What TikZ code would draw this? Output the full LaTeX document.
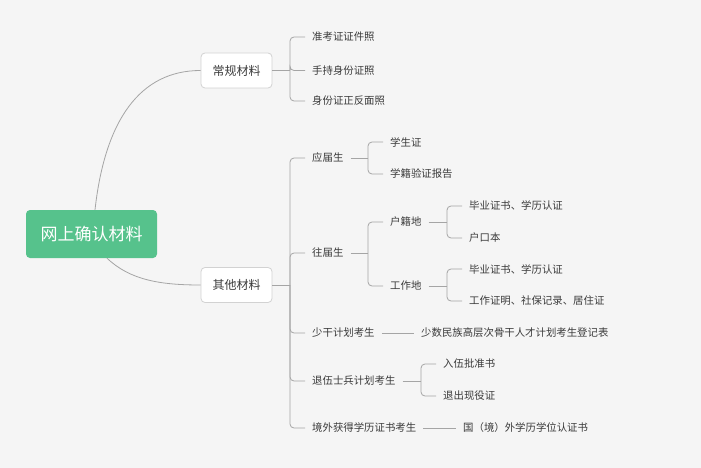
\documentclass[tikz,border=0pt]{standalone}
\usepackage{fontspec}
\setmainfont{Noto Sans CJK SC}
\usetikzlibrary{calc}
\definecolor{bg}{HTML}{F5F5F5}
\definecolor{rootg}{HTML}{56C28C}
\definecolor{linec}{HTML}{A5A5A5}
\definecolor{txt}{HTML}{3A3A3A}
\definecolor{boxb}{HTML}{D2D2D2}
\begin{document}
\begin{tikzpicture}[x=1pt,y=-1pt,
  conn/.style={draw=linec,line width=0.8pt},
  br/.style={conn,rounded corners=4pt},
  leaf/.style={anchor=west,inner xsep=7pt,inner ysep=2pt,text=txt,font=\fontsize{10.4}{12}\selectfont},
  mainbox/.style={draw=boxb,fill=white,rounded corners=4pt,line width=0.8pt,minimum width=71pt,minimum height=35pt,text=txt,font=\fontsize{12}{14}\selectfont,inner sep=0pt},
  rootbox/.style={fill=rootg,rounded corners=4pt,minimum width=131pt,minimum height=48pt,text=white,font=\fontsize{17}{20}\selectfont,inner sep=0pt}]
\fill[bg] (0,0) rectangle (701,468);
\useasboundingbox (0,0) rectangle (701,468);

\node[rootbox] (root) at (91.5,234) {网上确认材料};
\node[mainbox] (m1) at (236.5,70.5) {常规材料};
\node[mainbox] (m2) at (236.5,285) {其他材料};

\draw[conn] ([xshift=3.5pt]root.north) .. controls (105,120) and (140,70.5) .. (m1.west);
\draw[conn] ([xshift=15.5pt]root.south) .. controls (130,280) and (160,285) .. (m2.west);

% regular materials
\node[leaf] (a1) at (305,37) {准考证证件照};
\node[leaf] (a2) at (305,70.5) {手持身份证照};
\node[leaf] (a3) at (305,101) {身份证正反面照};
\coordinate (ja) at (290,70.5);
\draw[conn] (m1.east) -- (ja);
\foreach \c in {a1,a2,a3} \draw[br] (ja) |- (\c.west);

% other materials
\node[leaf] (b1) at (305,158) {应届生};
\node[leaf] (b2) at (305,253) {往届生};
\node[leaf] (b3) at (305,333) {少干计划考生};
\node[leaf] (b4) at (305,381) {退伍士兵计划考生};
\node[leaf] (b5) at (305,428) {境外获得学历证书考生};
\coordinate (jb) at (290,285);
\draw[conn] (m2.east) -- (jb);
\foreach \c in {b1,b2,b3,b4,b5} \draw[br] (jb) |- (\c.west);

% 应届生
\node[leaf] (c1) at (383,142) {学生证};
\node[leaf] (c2) at (383,174) {学籍验证报告};
\coordinate (jc) at (368,158);
\draw[conn] (b1.east) -- (jc);
\foreach \c in {c1,c2} \draw[br] (jc) |- (\c.west);

% 往届生
\node[leaf] (d1) at (383,222) {户籍地};
\node[leaf] (d2) at (383,286) {工作地};
\coordinate (jd) at (368,253);
\draw[conn] (b2.east) -- (jd);
\foreach \c in {d1,d2} \draw[br] (jd) |- (\c.west);

% 户籍地
\node[leaf] (e1) at (462,206) {毕业证书、学历认证};
\node[leaf] (e2) at (462,238) {户口本};
\coordinate (je) at (447,222);
\draw[conn] (d1.east) -- (je);
\foreach \c in {e1,e2} \draw[br] (je) |- (\c.west);

% 工作地
\node[leaf] (f1) at (462,269) {毕业证书、学历认证};
\node[leaf] (f2) at (462,301) {工作证明、社保记录、居住证};
\coordinate (jf) at (447,286);
\draw[conn] (d2.east) -- (jf);
\foreach \c in {f1,f2} \draw[br] (jf) |- (\c.west);

% 少干
\node[leaf] (g1) at (414,333) {少数民族高层次骨干人才计划考生登记表};
\draw[conn] (b3.east) -- (g1.west);

% 退伍
\node[leaf] (h1) at (436,364) {入伍批准书};
\node[leaf] (h2) at (436,396) {退出现役证};
\coordinate (jh) at (421,381);
\draw[conn] (b4.east) -- (jh);
\foreach \c in {h1,h2} \draw[br] (jh) |- (\c.west);

% 境外
\node[leaf] (k1) at (456,428) {国（境）外学历学位认证书};
\draw[conn] (b5.east) -- (k1.west);
\end{tikzpicture}
\end{document}
